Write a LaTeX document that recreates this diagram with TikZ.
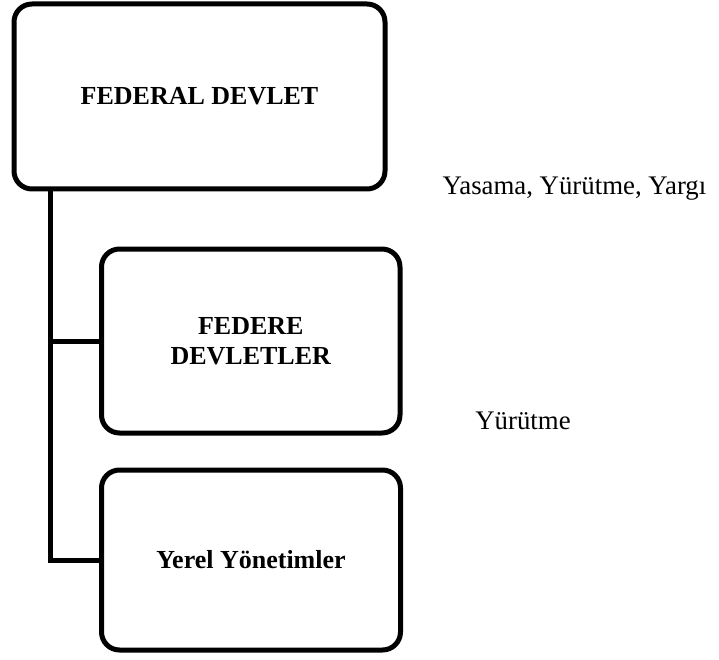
\documentclass[tikz,border=0pt]{standalone}
\usepackage{fontspec}
\setmainfont{Liberation Serif}
\begin{document}
\begin{tikzpicture}[x=1pt,y=1pt,
  box/.style={draw=black, line width=5pt, rounded corners=18pt, inner sep=0pt, outer sep=0pt,
    align=center, font=\fontsize{26}{29.5}\selectfont\bfseries},
  conn/.style={draw=black, line width=5pt},
  plain/.style={inner sep=0pt, font=\fontsize{26.8}{30}\selectfont}]
\useasboundingbox (0,0) rectangle (719,-660);
\node[box, minimum width=371pt, minimum height=185pt] (b1) at (199.5,-96.5) {FEDERAL DEVLET};
\node[box, minimum width=298.5pt, minimum height=184pt] (b2) at (250.75,-341) {FEDERE\\DEVLETLER};
\node[box, minimum width=299pt, minimum height=180pt] (b3) at (251,-560) {\raisebox{0pt}[0.66em][0pt]{Yerel Yönetimler}};
\coordinate (trunk) at (50.5,-189);
\draw[conn] (trunk) |- (b2.west);
\draw[conn] (trunk) |- (b3.west);
\node[plain, anchor=base] (t1) at (574.5,-195) {Yasama, Yürütme, Yargı};
\node[plain, anchor=base] (t2) at (523,-429.5) {Yürütme};
\end{tikzpicture}
\end{document}
